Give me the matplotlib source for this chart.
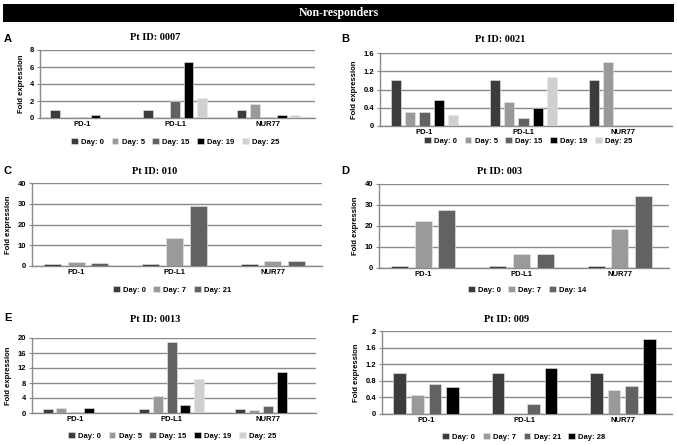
import numpy as np
import matplotlib
matplotlib.use("Agg")
import matplotlib.pyplot as plt
from matplotlib.patches import Rectangle

genes = ["PD-1", "PD-L1", "NUR77"]

# panel A, Pt 0007
days_a = ["Day: 0", "Day: 5", "Day: 15", "Day: 19", "Day: 25"]
vals_a = [[1.0, 1.0, 1.0],
          [0.02, 0.03, 1.7],
          [0.15, 2.0, 0.15],
          [0.35, 6.6, 0.3],
          [0.02, 2.4, 0.3]]
# panel B, Pt 0021
days_b = ["Day: 0", "Day: 5", "Day: 15", "Day: 19", "Day: 25"]
vals_b = [[1.0, 1.0, 1.0],
          [0.3, 0.53, 1.4],
          [0.31, 0.18, 0.0],
          [0.57, 0.4, 0.0],
          [0.25, 1.08, 0.0]]
# panel C, Pt 010
days_c = ["Day: 0", "Day: 7", "Day: 21"]
vals_c = [[1.0, 1.0, 1.0],
          [2.0, 13.3, 2.5],
          [1.5, 28.8, 2.2]]
# panel D, Pt 003
days_d = ["Day: 0", "Day: 7", "Day: 14"]
vals_d = [[1.0, 1.0, 1.0],
          [22.3, 6.8, 18.4],
          [27.8, 6.8, 34.4]]
# panel E, Pt 0013
days_e = ["Day: 0", "Day: 5", "Day: 15", "Day: 19", "Day: 25"]
vals_e = [[1.0, 1.0, 1.0],
          [1.4, 4.6, 0.8],
          [0.4, 19.0, 2.0],
          [1.3, 2.2, 11.0],
          [0.0, 9.0, 0.0]]
# panel F, Pt 009
days_f = ["Day: 0", "Day: 7", "Day: 21", "Day: 28"]
vals_f = [[1.0, 1.0, 1.0],
          [0.45, 0.03, 0.59],
          [0.72, 0.25, 0.67],
          [0.64, 1.1, 1.8]]

col5 = ["#3c3c3c", "#9a9a9a", "#626262", "#000000", "#d0d0d0"]
col3 = ["#3c3c3c", "#9a9a9a", "#626262"]
col4 = ["#3c3c3c", "#9a9a9a", "#626262", "#000000"]

sans = "Liberation Sans"
serif = "Liberation Serif"

fig = plt.figure(figsize=(6.77, 4.45), dpi=100)
W, H = 677.0, 445.0

def px_axes(l, r, t, b):
    return fig.add_axes([l / W, 1 - b / H, (r - l) / W, (b - t) / H])

panels = [
    # letter, title, days, values, colors, ymax, ticks, ticklabels, axes box, title xy, letter xy, legend xy
    ("A", "Pt ID: 0007", days_a, vals_a, col5, 8, [0, 2, 4, 6, 8], None,
     (40, 315, 50, 118), (155, 38), (4, 39), (175, 142)),
    ("B", "Pt ID: 0021", days_b, vals_b, col5, 1.6, [0, 0.4, 0.8, 1.2, 1.6], ["0", "0.4", "0.8", "1.2", "1.6"],
     (380, 672, 53, 126), (500, 39), (341, 39), (528, 141)),
    ("C", "Pt ID: 010", days_c, vals_c, col3, 40, [0, 10, 20, 30, 40], None,
     (32, 322, 183, 266), (155, 172), (4, 171), (172, 290)),
    ("D", "Pt ID: 003", days_d, vals_d, col3, 40, [0, 10, 20, 30, 40], None,
     (379, 669, 184, 268), (500, 172), (341, 171), (527, 290)),
    ("E", "Pt ID: 0013", days_e, vals_e, col5, 20, [0, 4, 8, 12, 16, 20], None,
     (32, 316, 338, 413), (155, 320), (4, 318), (172, 436)),
    ("F", "Pt ID: 009", days_f, vals_f, col4, 2, [0, 0.4, 0.8, 1.2, 1.6, 2], ["0", "0.4", "0.8", "1.2", "1.6", "2"],
     (382, 672, 331, 414), (507, 320), (351, 320), (524, 437)),
]

x = np.arange(len(genes))
for letter, title, days, vals, cols, ymax, ticks, tlabels, box, txy, lxy, gxy in panels:
    ax = px_axes(*box)
    n = len(days)
    slot = 0.72 / n
    handles = []
    for i in range(n):
        off = (i - (n - 1) / 2) * slot
        b = ax.bar(x + off, vals[i], width=slot * 0.72, color=cols[i],
                   edgecolor="#e8e8e8", linewidth=0.4, label=days[i], zorder=3)
        handles.append(b)
    ax.set_xlim(-0.45, 2.5)
    ax.set_ylim(0, ymax)
    ax.set_yticks(ticks)
    if tlabels:
        ax.set_yticklabels(tlabels)
    ax.set_xticks(x)
    ax.set_xticklabels(genes)
    ax.yaxis.grid(True, color="#8a8a8a", linewidth=1.0, zorder=0)
    ax.set_axisbelow(True)
    for s in ["top", "right"]:
        ax.spines[s].set_visible(False)
    for s in ["left", "bottom"]:
        ax.spines[s].set_color("#8a8a8a")
        ax.spines[s].set_linewidth(1.0)
    ax.tick_params(axis="x", length=0, pad=2)
    ax.tick_params(axis="y", length=2, pad=2, color="#8a8a8a")
    for lab in ax.get_xticklabels() + ax.get_yticklabels():
        lab.set_fontfamily(sans)
        lab.set_fontweight("bold")
        lab.set_fontsize(5.5)
    ax.set_ylabel("Fold expression", fontfamily=sans, fontweight="bold", fontsize=5.5, labelpad=4)
    fig.text(txy[0] / W, 1 - txy[1] / H, title, ha="center", va="center",
             fontfamily=serif, fontweight="bold", fontsize=7.5)
    fig.text(lxy[0] / W, 1 - lxy[1] / H, letter, ha="left", va="center",
             fontfamily=sans, fontweight="bold", fontsize=8)
    fig.legend(handles=handles, loc="center", bbox_to_anchor=(gxy[0] / W, 1 - gxy[1] / H),
               ncol=n, frameon=False, handlelength=0.9, handleheight=0.9,
               handletextpad=0.4, columnspacing=1.0, borderpad=0.2,
               prop={"family": sans, "weight": "bold", "size": 5.5})

# title bar
fig.patches.append(Rectangle((3 / W, 1 - 22 / H), 671 / W, 18 / H, transform=fig.transFigure,
                             facecolor="black", edgecolor="none"))
fig.text(0.5, 1 - 13 / H, "Non-responders", ha="center", va="center", color="white",
         fontfamily=serif, fontweight="bold", fontsize=8.5)

fig.savefig("out.png", dpi=100)
